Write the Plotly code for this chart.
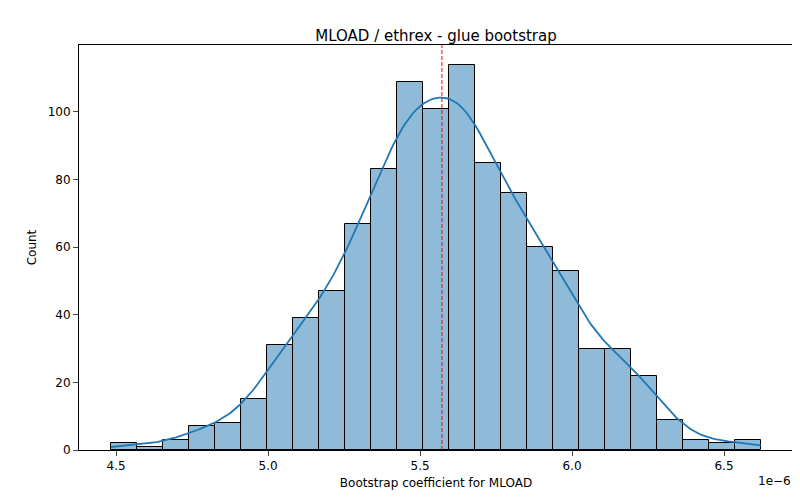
import numpy as np
import plotly.graph_objects as go

# bootstrap coefficient histogram, x in units of 1e-6
bin_start = 4.4836
bin_width = 0.0855
counts = [2, 1, 3, 7, 8, 15, 31, 39, 47, 67, 83, 109, 101, 114, 85, 76, 60, 53, 30, 30, 22, 9, 3, 2, 3]
mean_line = 5.572

counts = np.array(counts)
edges = bin_start + bin_width * np.arange(len(counts) + 1)
centers = (edges[:-1] + edges[1:]) / 2

# KDE from the binned counts (Scott bandwidth)
n = counts.sum()
mu = (centers * counts).sum() / n
sd = np.sqrt(((centers - mu) ** 2 * counts).sum() / n)
bw = sd * n ** (-0.2)
xs = np.linspace(edges[0], edges[-1], 300)
dens = (counts[None, :] * np.exp(-0.5 * ((xs[:, None] - centers[None, :]) / bw) ** 2)).sum(1)
dens = dens / (n * bw * np.sqrt(2 * np.pi))
kde = dens * n * bin_width

fig = go.Figure()
fig.add_trace(go.Bar(x=centers, y=counts, width=bin_width,
                     marker=dict(color="rgba(31,119,180,0.5)", line=dict(color="black", width=1))))
fig.add_trace(go.Scatter(x=xs, y=kde, mode="lines", line=dict(color="#1f77b4", width=1.8)))
fig.add_shape(type="line", x0=mean_line, x1=mean_line, y0=0, y1=1, yref="paper",
              line=dict(color="red", width=1, dash="4px,2px"))
fig.add_annotation(text="1e\u22126", x=1, y=-0.055, xref="paper", yref="paper",
                   xanchor="right", yanchor="top", showarrow=False, font=dict(size=12))

axis = dict(showline=True, linecolor="black", linewidth=1, mirror=True, ticks="outside",
            showgrid=False, zeroline=False, tickfont=dict(size=12), automargin=False)
fig.update_layout(
    width=800, height=500, plot_bgcolor="white", paper_bgcolor="white",
    font=dict(family="DejaVu Sans", color="black"),
    showlegend=False, bargap=0,
    margin=dict(l=71, r=15, t=37, b=58, autoexpand=False),
    title=dict(text="MLOAD / ethrex - glue bootstrap", x=0.535, xanchor="center",
               y=0.955, font=dict(size=15)),
    xaxis=dict(axis, range=[4.378, 6.727], tickvals=[4.5, 5.0, 5.5, 6.0, 6.5],
               ticktext=["4.5", "5.0", "5.5", "6.0", "6.5"],
               title=dict(text="Bootstrap coefficient for MLOAD", font=dict(size=12), standoff=6)),
    yaxis=dict(axis, range=[0, 119.8], tickvals=[0, 20, 40, 60, 80, 100],
               title=dict(text="Count", font=dict(size=12), standoff=8)),
)
fig.write_html("out.html")
